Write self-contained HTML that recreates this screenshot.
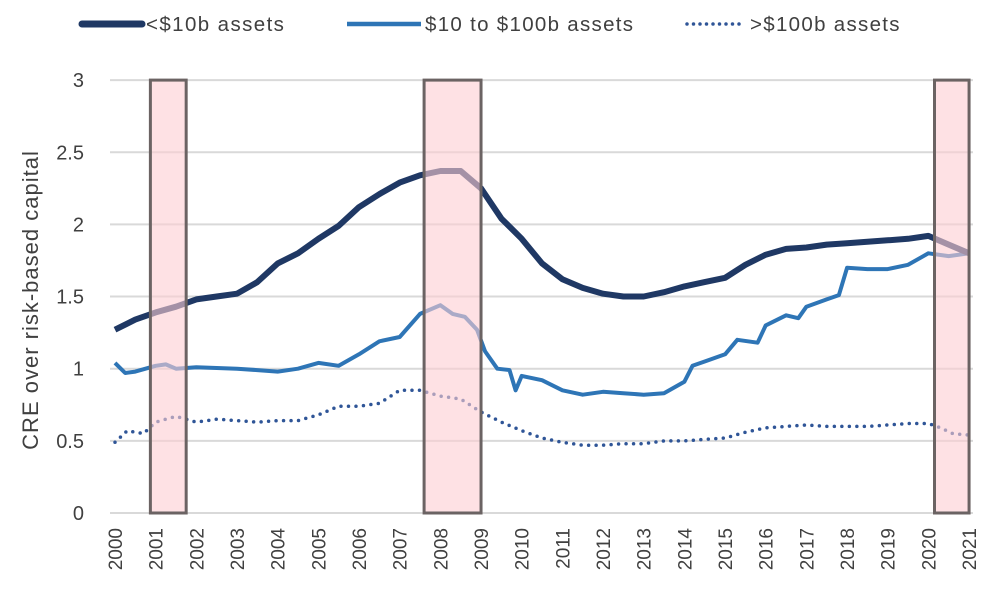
<!DOCTYPE html>
<html><head><meta charset="utf-8"><style>
body{margin:0;background:#fff;}
svg{display:block;font-family:"Liberation Sans",sans-serif;}
</style></head><body>
<svg id="chart" width="1000" height="590" viewBox="0 0 1000 590">
<g id="grid"></g>
<g id="ylabels"></g>
<g id="xlabels"></g>
<text transform="translate(38,300) rotate(-90)" text-anchor="middle" font-size="22" letter-spacing="1" fill="#404040">CRE over risk-based capital</text>
<g id="series"></g>
<g id="rec"></g>
<g>
<g><line x1="82" y1="24" x2="142" y2="24" stroke="#1f3864" stroke-width="7" stroke-linecap="round"/><text x="146" y="31" font-size="20.5" letter-spacing="1.4" fill="#404040">&lt;$10b assets</text></g>
<g><line x1="347" y1="24" x2="421" y2="24" stroke="#2e75b6" stroke-width="4.5"/><text x="425" y="31" font-size="20.5" letter-spacing="1.3" fill="#404040">$10 to $100b assets</text></g>
<g><line x1="687" y1="24" x2="745" y2="24" stroke="#2f5597" stroke-width="3.5" stroke-dasharray="0 6.5" stroke-linecap="round"/><text x="750" y="31" font-size="20.5" letter-spacing="1.3" fill="#404040">&gt;$100b assets</text></g>
</g>
</svg>
<script>
const yTicks=[0,0.5,1,1.5,2,2.5,3];
const yTickLabels=["0","0.5","1","1.5","2","2.5","3"];
const xTicks=[2000,2001,2002,2003,2004,2005,2006,2007,2008,2009,2010,2011,2012,2013,2014,2015,2016,2017,2018,2019,2020,2021];
const recessions=[[2000.87,2001.75],[2007.6,2009.0],[2020.15,2021.0]];
const smallYears=[2000,2000.5,2001,2001.5,2002,2002.5,2003,2003.5,2004,2004.5,2005,2005.5,2006,2006.5,2007,2007.5,2008,2008.5,2009,2009.5,2010,2010.5,2011,2011.5,2012,2012.5,2013,2013.5,2014,2014.5,2015,2015.5,2016,2016.5,2017,2017.5,2018,2018.5,2019,2019.5,2020,2020.5,2021];
const smallVals=[1.27,1.34,1.39,1.43,1.48,1.50,1.52,1.60,1.73,1.80,1.90,1.99,2.12,2.21,2.29,2.34,2.37,2.37,2.25,2.04,1.90,1.73,1.62,1.56,1.52,1.50,1.50,1.53,1.57,1.60,1.63,1.72,1.79,1.83,1.84,1.86,1.87,1.88,1.89,1.90,1.92,1.86,1.80];
const midYears=[2000,2000.25,2000.5,2001,2001.25,2001.5,2002,2003,2003.5,2004,2004.5,2005,2005.5,2006,2006.5,2007,2007.5,2008,2008.3,2008.6,2008.9,2009.1,2009.4,2009.7,2009.85,2010,2010.5,2011,2011.5,2012,2012.5,2013,2013.5,2014,2014.2,2014.5,2015,2015.3,2015.8,2016,2016.5,2016.8,2017,2017.5,2017.8,2018,2018.5,2019,2019.5,2020,2020.5,2021];
const midVals=[1.04,0.97,0.98,1.02,1.03,1.00,1.01,1.00,0.99,0.98,1.00,1.04,1.02,1.10,1.19,1.22,1.38,1.44,1.38,1.36,1.27,1.12,1.00,0.99,0.85,0.95,0.92,0.85,0.82,0.84,0.83,0.82,0.83,0.91,1.02,1.05,1.10,1.20,1.18,1.30,1.37,1.35,1.43,1.48,1.51,1.70,1.69,1.69,1.72,1.80,1.78,1.80];
const largeYears=[2000,2000.3,2000.7,2001,2001.5,2002,2002.5,2003,2003.5,2004,2004.5,2005,2005.5,2006,2006.5,2007,2007.5,2008,2008.5,2009,2009.5,2010,2010.5,2011,2011.5,2012,2012.5,2013,2013.5,2014,2014.5,2015,2015.5,2016,2016.5,2017,2017.5,2018,2018.5,2019,2019.5,2020,2020.3,2020.6,2021];
const largeVals=[0.49,0.57,0.55,0.63,0.67,0.63,0.65,0.64,0.63,0.64,0.64,0.68,0.74,0.74,0.76,0.85,0.85,0.81,0.79,0.70,0.63,0.57,0.52,0.49,0.47,0.47,0.48,0.48,0.50,0.50,0.51,0.52,0.56,0.59,0.60,0.61,0.60,0.60,0.60,0.61,0.62,0.62,0.59,0.55,0.54];

const NS="http://www.w3.org/2000/svg";
const X=yr=>115+(yr-2000)*40.67;
const Y=v=>513-v*144.3;
function mk(tag,parent,attrs){const e=document.createElementNS(NS,tag);for(const k in attrs)e.setAttribute(k,attrs[k]);document.getElementById(parent).appendChild(e);return e;}

yTicks.forEach((v,i)=>{
  const l=mk('line','grid',{x1:110,x2:973,y1:Y(v),y2:Y(v),stroke:'#d9d9d9','stroke-width':2});
  
  
  const t=mk('text','ylabels',{x:84,y:Y(v)+7,'text-anchor':'end','font-size':20,fill:'#404040'});
  t.textContent=yTickLabels[i];
  
  
});
xTicks.forEach(yr=>{
  const t=mk('text','xlabels',{transform:`translate(${X(yr)+7},528) rotate(-90)`,'text-anchor':'end','font-size':19,fill:'#404040'});
  t.textContent=String(yr);
  
  
});
function path(xs,vs){return xs.map((x,i)=>(i?'L':'M')+X(x).toFixed(1)+','+Y(vs[i]).toFixed(1)).join('');}
const p3=mk('path','series',{d:path(largeYears,largeVals),fill:'none',stroke:'#2f5597','stroke-width':3.5,'stroke-dasharray':'0 7.5','stroke-linecap':'round'});


const p2=mk('path','series',{d:path(midYears,midVals),fill:'none',stroke:'#2e75b6','stroke-width':4,'stroke-linejoin':'round'});


const p1=mk('path','series',{d:path(smallYears,smallVals),fill:'none',stroke:'#1f3864','stroke-width':6,'stroke-linejoin':'round'});


recessions.forEach(r=>{
  const b=mk('rect','rec',{x:X(r[0]),y:Y(3),width:X(r[1])-X(r[0]),height:Y(0)-Y(3),fill:'rgba(253,205,210,0.6)',stroke:'#6b6363','stroke-width':3});
  
  
});
</script>
</body></html>
